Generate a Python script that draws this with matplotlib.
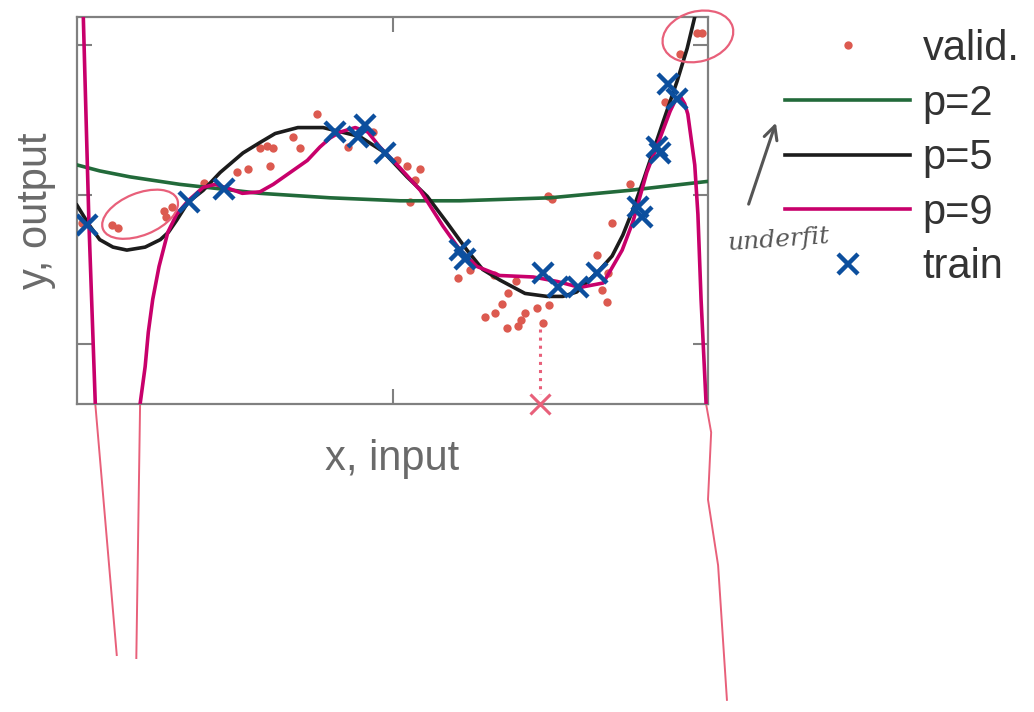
import numpy as np
import matplotlib
matplotlib.use("Agg")
import matplotlib.pyplot as plt
from matplotlib.patches import Ellipse
import matplotlib.transforms as mtransforms

# ---------------- data ----------------
valid_x = [0.08, 0.55, 0.65, 1.38, 1.41, 1.51, 2.01, 2.54, 2.71, 2.90, 3.01, 3.11,
           3.06, 3.42, 3.53, 3.80, 4.29, 4.69, 5.07, 5.23, 5.44, 5.36, 5.28, 7.46,
           7.53, 8.76, 8.48, 8.24, 8.42, 8.32, 8.40, 6.04, 6.23, 6.61, 6.96, 6.83,
           6.74, 6.62, 6.47, 6.81, 6.99, 7.04, 7.10, 7.29, 7.48, 7.39, 9.32, 9.56,
           9.83, 9.90]
valid_y = [-0.19, -0.20, -0.22, -0.11, -0.15, -0.08, 0.08, 0.15, 0.17, 0.31, 0.33, 0.31,
           0.19, 0.39, 0.31, 0.54, 0.32, 0.42, 0.23, 0.19, 0.17, 0.10, -0.05, -0.01,
           -0.03, 0.07, -0.19, -0.40, -0.52, -0.64, -0.72, -0.56, -0.50, -0.54, -0.58, -0.66,
           -0.73, -0.79, -0.82, -0.89, -0.88, -0.84, -0.79, -0.76, -0.74, -0.86, 0.62, 0.94,
           1.08, 1.08]

train_x = [0.16, 1.77, 2.33, 4.09, 4.45, 4.56, 4.88, 6.07, 6.15, 7.39, 7.62, 7.94,
           8.24, 8.89, 8.95, 9.19, 9.24, 9.37, 9.51]
train_y = [-0.20, -0.05, 0.04, 0.42, 0.39, 0.47, 0.28, -0.37, -0.43, -0.52, -0.62, -0.62,
           -0.52, -0.08, -0.15, 0.32, 0.28, 0.74, 0.64]

p2_x = [0.00, 0.36, 0.84, 1.63, 2.90, 4.01, 5.12, 6.07, 7.50, 8.76, 10.0]
p2_y = [0.20, 0.16, 0.12, 0.07, 0.01, -0.02, -0.04, -0.04, -0.02, 0.03, 0.09]

p5_x = [0.00, 0.19, 0.36, 0.57, 0.79, 1.08, 1.32, 1.45, 1.58, 1.76, 2.00, 2.27,
        2.63, 2.90, 3.14, 3.50, 3.90, 4.29, 4.48, 4.85, 5.23, 5.55, 5.87, 6.18,
        6.43, 6.70, 7.10, 7.45, 7.70, 7.92, 8.29, 8.48, 8.65, 8.81, 8.97, 9.29,
        9.51, 9.67, 9.79]
p5_y = [-0.07, -0.20, -0.30, -0.35, -0.37, -0.35, -0.30, -0.25, -0.17, -0.05, 0.03, 0.15,
        0.28, 0.35, 0.41, 0.45, 0.45, 0.41, 0.39, 0.29, 0.12, -0.01, -0.19, -0.37,
        -0.50, -0.57, -0.66, -0.68, -0.68, -0.65, -0.50, -0.41, -0.27, -0.10, 0.09, 0.49,
        0.76, 0.98, 1.19]

p9_left_x = [0.10, 0.19, 0.29]
p9_left_y = [1.19, -0.20, -1.40]
p9_x = [1.00, 1.08, 1.13, 1.20, 1.30, 1.44, 1.58, 1.76, 2.00, 2.19, 2.42, 2.62,
        2.90, 3.11, 3.38, 3.65, 3.85, 4.01, 4.17, 4.41, 4.61, 4.80, 5.12, 5.44,
        5.80, 6.07, 6.34, 6.70, 7.23, 7.61, 7.97, 8.34, 8.49, 8.64, 8.81, 9.03,
        9.24, 9.40, 9.48, 9.56, 9.63, 9.68, 9.79, 9.84, 9.89, 9.97]
p9_y = [-1.40, -1.15, -0.92, -0.70, -0.48, -0.25, -0.13, -0.04, 0.05, 0.07, 0.04, 0.01,
        0.02, 0.07, 0.15, 0.23, 0.32, 0.38, 0.42, 0.45, 0.42, 0.32, 0.18, 0.03,
        -0.21, -0.37, -0.48, -0.54, -0.55, -0.58, -0.62, -0.59, -0.48, -0.37, -0.18, 0.15,
        0.38, 0.56, 0.63, 0.66, 0.61, 0.54, 0.20, -0.13, -0.70, -1.40]

# hand-drawn annotations (pen strokes)
pen_a_x = [0.29, 0.63]
pen_a_y = [-1.40, -3.08]
pen_b_x = [1.00, 0.94]
pen_b_y = [-1.40, -3.10]
pen_c_x = [9.97, 10.05, 10.00, 10.16, 10.30]
pen_c_y = [-1.40, -1.59, -2.04, -2.48, -3.38]
drop_x = [7.34, 7.34]
drop_y = [-0.90, -1.33]

labels = ["valid.", "p=2", "p=5", "p=9", "train"]

# ---------------- styling ----------------
C_VALID = "#dc5a50"
C_P2 = "#226a3a"
C_P5 = "#1c1c1c"
C_P9 = "#c8006b"
C_TRAIN = "#0c4f9e"
C_PEN = "#e8607a"
C_GRAY = "#808080"

plt.rcParams["font.family"] = ["Liberation Sans", "DejaVu Sans"]

fig = plt.figure(figsize=(10.34, 7.12), dpi=100)
ax = fig.add_axes([77 / 1034, 1 - 404 / 712, 631 / 1034, 387 / 712])
ax.set_xlim(0, 10)
ax.set_ylim(-1.40, 1.19)

ax.plot(valid_x, valid_y, "o", ms=6, color=C_VALID, mec="none", label=labels[0], zorder=2)
ax.plot(p2_x, p2_y, "-", color=C_P2, lw=2.6, label=labels[1], zorder=3)
ax.plot(p5_x, p5_y, "-", color=C_P5, lw=2.6, label=labels[2], zorder=3)
ax.plot(p9_x, p9_y, "-", color=C_P9, lw=2.6, label=labels[3], zorder=4)
ax.plot(p9_left_x, p9_left_y, "-", color=C_P9, lw=2.6, zorder=4)
ax.plot(train_x, train_y, "x", ms=14, mew=3.2, color=C_TRAIN, label=labels[4], zorder=5)

# pen annotations
for px, py in [(pen_a_x, pen_a_y), (pen_b_x, pen_b_y), (pen_c_x, pen_c_y)]:
    ax.plot(px, py, "-", color=C_PEN, lw=1.4, clip_on=False, zorder=1)
ax.plot(drop_x, drop_y, ":", color=C_PEN, lw=2.2, clip_on=False, zorder=1)
ax.plot([drop_x[0]], [-1.40], "x", ms=14, mew=2.2, color=C_PEN, clip_on=False, zorder=6)

def pen_ellipse(cx, cy, w_in, h_in, ang):
    tr = fig.dpi_scale_trans + mtransforms.ScaledTranslation(cx, cy, ax.transData)
    e = Ellipse((0, 0), w_in, h_in, angle=ang, fill=False, ec=C_PEN, lw=1.6,
                transform=tr, clip_on=False, zorder=6)
    ax.add_patch(e)

pen_ellipse(1.00, -0.13, 0.80, 0.42, 22)
pen_ellipse(9.84, 1.06, 0.72, 0.50, 15)

ax.annotate("", xy=(11.09, 0.50), xytext=(10.63, -0.08), xycoords="data",
            arrowprops=dict(arrowstyle="->", color="#555555", lw=2.2,
                            mutation_scale=24), annotation_clip=False)
ax.text(11.11, -0.30, "underfit", fontsize=18, family="DejaVu Serif", style="italic",
        color="#555555", ha="center", va="center", rotation=4, clip_on=False)

# axes look
for s in ax.spines.values():
    s.set_color(C_GRAY)
    s.set_linewidth(1.6)
ax.set_xticks([5])
ax.set_yticks([-1, 0, 1])
ax.tick_params(direction="in", length=11, width=1.5, color=C_GRAY,
               top=True, right=True, labelbottom=False, labelleft=False)

ax.set_xlabel("x, input", fontsize=30, color="#6a6a6a", labelpad=25)
ax.set_ylabel("y, output", fontsize=30, color="#6a6a6a", labelpad=15)

leg = ax.legend(loc="upper left", bbox_to_anchor=(785 / 1034, 1 - 29 / 712),
                bbox_transform=fig.transFigure, frameon=False, fontsize=30,
                handlelength=3.0, handletextpad=0.3, labelspacing=0.35,
                borderpad=0, borderaxespad=0, markerscale=1.0)
for t in leg.get_texts():
    t.set_color("#333333")

fig.savefig("out.png", dpi=100)
